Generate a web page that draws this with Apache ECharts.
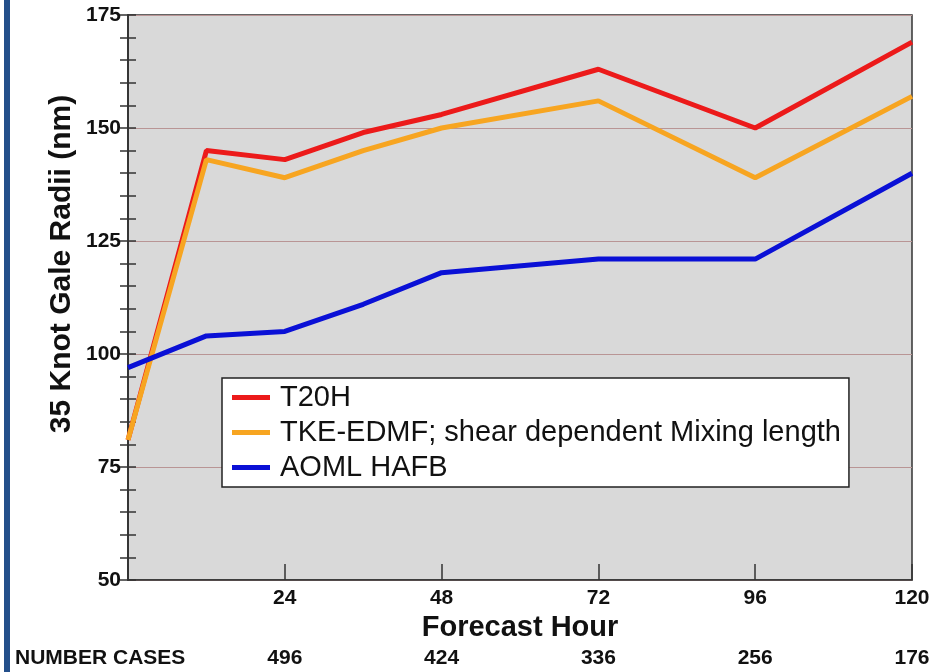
<!DOCTYPE html>
<html>
<head>
<meta charset="utf-8">
<script src="https://cdn.jsdelivr.net/npm/echarts@6/dist/echarts.min.js"></script>
<style>
html,body{margin:0;padding:0;background:#fff;}
#chart{width:935px;height:672px;}
</style>
</head>
<body>
<div id="chart"></div>
<script>
var hours = [0, 12, 24, 36, 48, 72, 96, 120];
var t20h = [81, 145, 143, 149, 153, 163, 150, 169];
var tkeEdmf = [81, 143, 139, 145, 150, 156, 139, 157];
var aomlHafb = [97, 104, 105, 111, 118, 121, 121, 140];
var caseHours = [24, 48, 72, 96, 120];
var caseCounts = [496, 424, 336, 256, 176];
var seriesNames = ['T20H', 'TKE-EDMF; shear dependent Mixing length', 'AOML HAFB'];
var seriesColors = ['#ec1a1a', '#f7a521', '#0a10d6'];

function pairs(ys) { return hours.map(function (h, i) { return [h, ys[i]]; }); }

var FONT = '"Liberation Sans", Arial, Helvetica, sans-serif';
var chart = echarts.init(document.getElementById('chart'), null, {renderer: 'canvas'});

var option = {
  animation: false,
  textStyle: {fontFamily: FONT},
  grid: {left: 128, top: 15, right: 23, bottom: 92, show: true,
         backgroundColor: '#d9d9d9', borderColor: '#333', borderWidth: 1.5},
  legend: {
    left: 222, top: 378, orient: 'vertical',
    backgroundColor: '#fff', borderColor: '#222', borderWidth: 1.5, borderRadius: 0,
    padding: [5, 8, 5, 10], itemGap: 6, itemWidth: 38, itemHeight: 5,
    icon: 'rect',
    textStyle: {fontFamily: FONT, fontSize: 29, lineHeight: 29, color: '#111', padding: [0, 0, 0, 5]},
    data: seriesNames
  },
  xAxis: [{
    type: 'value', min: 0, max: 120, interval: 24, position: 'bottom',
    axisLine: {show: true, lineStyle: {color: '#333', width: 1.5}},
    axisTick: {show: true, inside: true, length: 16, lineStyle: {color: '#333', width: 1.5}},
    axisLabel: {fontSize: 21, fontWeight: 'bold', color: '#111', margin: 8,
      formatter: function (v) { return v === 0 ? '' : String(v); }},
    splitLine: {show: false},
    name: 'Forecast Hour', nameLocation: 'middle', nameGap: 33,
    nameTextStyle: {fontSize: 29, fontWeight: 'bold', color: '#111'}
  }, {
    type: 'value', min: 0, max: 120, interval: 24, position: 'bottom', offset: 58,
    axisLine: {show: false}, axisTick: {show: false}, splitLine: {show: false},
    axisLabel: {fontSize: 21, fontWeight: 'bold', color: '#111', margin: 10,
      formatter: function (v) {
        var k = caseHours.indexOf(v);
        return k < 0 ? '' : String(caseCounts[k]);
      }}
  }],
  yAxis: [{
    type: 'value', min: 50, max: 175, interval: 25, position: 'left',
    axisLine: {show: true, lineStyle: {color: '#333', width: 1.5}},
    axisTick: {show: true, inside: true, length: 8, lineStyle: {color: '#333', width: 1.5}},
    minorTick: {show: true, splitNumber: 5, length: 8, lineStyle: {color: '#333', width: 1.5}},
    axisLabel: {fontSize: 21, fontWeight: 'bold', color: '#111', margin: 7},
    splitLine: {show: true, lineStyle: {color: '#b99595', width: 1}}
  }, {
    type: 'value', min: 50, max: 175, interval: 25, position: 'right',
    axisLine: {show: true, lineStyle: {color: '#333', width: 1.5}},
    axisTick: {show: true, inside: true, length: 8, lineStyle: {color: '#333', width: 1.5}},
    minorTick: {show: true, splitNumber: 5, length: 8, lineStyle: {color: '#333', width: 1.5}},
    axisLabel: {show: false},
    splitLine: {show: false}
  }],
  series: [t20h, tkeEdmf, aomlHafb].map(function (ys, i) {
    return {
      name: seriesNames[i], type: 'line', data: pairs(ys),
      xAxisIndex: 0, yAxisIndex: 0,
      showSymbol: false, symbol: 'none',
      lineStyle: {color: seriesColors[i], width: 5},
      itemStyle: {color: seriesColors[i]},
      z: 3 + i
    };
  }),
  graphic: [
    {type: 'rect', left: 4, top: 0, shape: {width: 6, height: 672}, style: {fill: '#234f8a'}},
    {type: 'text', x: 62, y: 264, rotation: Math.PI / 2,
     style: {text: '35 Knot Gale Radii (nm)', font: 'bold 30px ' + FONT, fill: '#111',
             textAlign: 'center', textVerticalAlign: 'middle'}},
    {type: 'text', x: 15, y: 658,
     style: {text: 'NUMBER CASES', font: 'bold 21px ' + FONT, fill: '#111',
             textAlign: 'left', textVerticalAlign: 'middle'}}
  ]
};
chart.setOption(option);
</script>
</body>
</html>
